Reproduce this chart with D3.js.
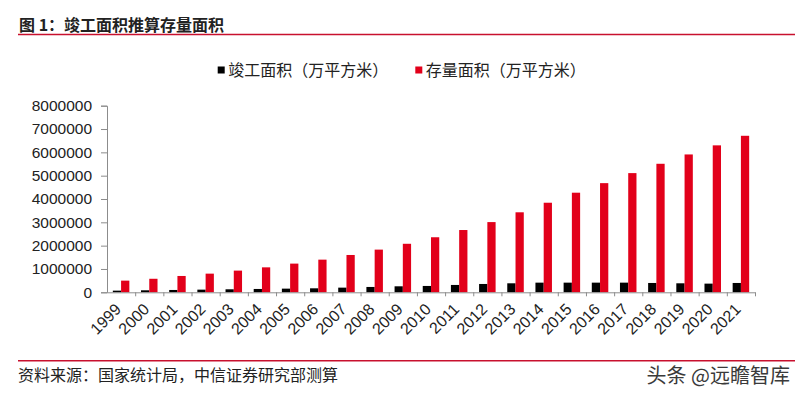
<!DOCTYPE html>
<html>
<head>
<meta charset="utf-8">
<script src="https://cdn.jsdelivr.net/npm/d3@7"></script>
<style>
  body { margin: 0; background: #fff; }
  svg { display: block; }
  .cjk { font-family: "Noto Sans CJK SC", "Noto Sans", sans-serif; }
  .num { font-family: "Liberation Sans", Arial, sans-serif; }
</style>
</head>
<body>
<div id="chart"></div>
<script>
"use strict";

// categories and series (万平方米)
const years = ["1999", "2000", "2001", "2002", "2003", "2004", "2005", "2006", "2007", "2008",
  "2009", "2010", "2011", "2012", "2013", "2014", "2015", "2016", "2017", "2018",
  "2019", "2020", "2021"];
const completed = [71000, 86000, 100000, 114000, 129000, 143000, 157000, 171000, 200000, 229000,
  257000, 272000, 315000, 357000, 386000, 414000, 414000, 414000, 414000, 400000,
  386000, 372000, 400000];
const stock = [500000, 580000, 700000, 800000, 930000, 1070000, 1230000, 1400000, 1600000, 1830000,
  2080000, 2360000, 2670000, 3010000, 3430000, 3840000, 4270000, 4680000, 5110000, 5510000,
  5910000, 6300000, 6710000];
const yTicks = [0, 1000000, 2000000, 3000000, 4000000, 5000000, 6000000, 7000000, 8000000];
const seriesNames = ["竣工面积（万平方米）", "存量面积（万平方米）"];
const seriesColors = ["#000000", "#e2001a"];

const W = 800, H = 397;
const plotL = 107, plotR = 755, plotT = 105.7, plotB = 292.3;

const svg = d3.select("#chart").append("svg")
  .attr("width", W)
  .attr("height", H);

// header / footer
svg.append("text")
  .attr("class", "cjk")
  .attr("x", 19).attr("y", 31)
  .style("font-size", "16px").style("font-weight", "bold").style("fill", "#222")
  .text("图 1：竣工面积推算存量面积");
svg.append("line")
  .attr("x1", 18).attr("x2", 795).attr("y1", 34.5).attr("y2", 34.5)
  .style("stroke", "#c8102e").style("stroke-width", 1.5);
svg.append("line")
  .attr("x1", 18).attr("x2", 795).attr("y1", 360.7).attr("y2", 360.7)
  .style("stroke", "#c8102e").style("stroke-width", 1.5);
svg.append("text")
  .attr("class", "cjk")
  .attr("x", 18).attr("y", 381)
  .style("font-size", "16px").style("fill", "#222")
  .text("资料来源：国家统计局，中信证券研究部测算");
svg.append("text")
  .attr("class", "cjk")
  .attr("x", 790).attr("y", 383)
  .attr("text-anchor", "end")
  .style("font-size", "20px").style("fill", "#3a3a3a")
  .text("头条 @远瞻智库");

// legend
const legendX = [217.7, 415.3];
seriesNames.forEach(function(name, i) {
  svg.append("rect")
    .attr("x", legendX[i]).attr("y", 66.5)
    .attr("width", 7).attr("height", 7)
    .style("fill", seriesColors[i]);
  svg.append("text")
    .attr("class", "cjk")
    .attr("x", legendX[i] + 10.5).attr("y", 75.5)
    .style("font-size", "16px").style("fill", "#222")
    .text(name);
});

// scales
const x = d3.scaleBand().domain(years).range([plotL, plotR]).paddingInner(0).paddingOuter(0);
const y = d3.scaleLinear().domain([0, 8000000]).range([plotB, plotT]);
const barW = x.step() * 0.293;

// bars
const g = svg.append("g");
[completed, stock].forEach(function(values, s) {
  g.selectAll(null)
    .data(values)
    .enter().append("rect")
    .attr("x", (d, i) => x(years[i]) + x.step() / 2 - barW + s * barW)
    .attr("y", d => y(d))
    .attr("width", barW)
    .attr("height", d => plotB - y(d))
    .style("fill", seriesColors[s]);
});

// y axis
const yAxis = svg.append("g")
  .attr("transform", "translate(" + plotL + ",0)")
  .call(d3.axisLeft(y).tickValues(yTicks).tickFormat(d3.format("d")).tickSize(6).tickPadding(9));
yAxis.selectAll("text")
  .attr("class", "num")
  .style("font-size", "15.5px").style("fill", "#222");

// x axis: ticks between categories
const xb = d3.scaleLinear().domain([0, years.length]).range([plotL, plotR]);
svg.append("g")
  .attr("transform", "translate(0," + plotB + ")")
  .call(d3.axisBottom(xb).tickValues(d3.range(1, years.length + 1))
    .tickFormat("").tickSize(4).tickSizeOuter(0));

svg.selectAll(".domain, .tick line")
  .style("stroke", "#8c8c8c").style("stroke-width", 1);

// rotated year labels
svg.append("g").selectAll("text")
  .data(years)
  .enter().append("text")
  .attr("class", "num")
  .attr("text-anchor", "end")
  .attr("transform", d => "translate(" + (x(d) + x.step() / 2 + 1) + "," + (plotB + 18) + ") rotate(-45)")
  .style("font-size", "16px").style("fill", "#222")
  .text(d => d);
</script>
</body>
</html>
